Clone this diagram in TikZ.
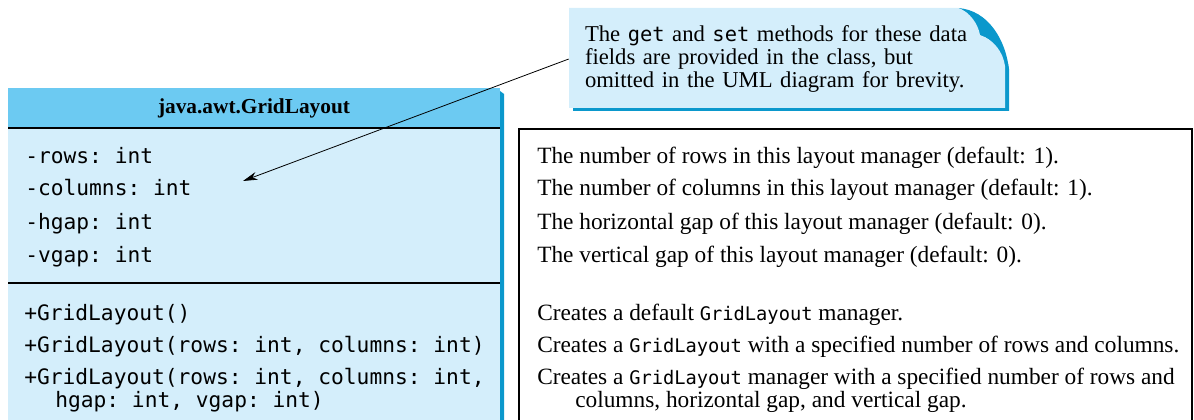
\documentclass[tikz,border=0pt]{standalone}
\usepackage{fontspec}
\setmainfont{Liberation Serif}
\setmonofont[Scale=0.9]{DejaVu Sans Mono}
\usepackage{xcolor}
\definecolor{umlhead}{HTML}{6CCAF2}
\definecolor{umlbody}{HTML}{D4EEFB}
\definecolor{umlshade}{HTML}{0B98CC}
\usetikzlibrary{arrows.meta, positioning}
\newcommand{\javaid}[1]{{\fontsize{15.6}{20}\ttfamily #1}}

\begin{document}
\begin{tikzpicture}[
	x=0.75pt, y=-0.75pt,
	head/.style={font=\fontsize{16}{18}\selectfont\bfseries, inner sep=0pt, fill=umlhead, minimum width=369pt, minimum height=30pt},
	field/.style={anchor=base west, inner sep=0pt, font=\fontsize{17.7}{20}\ttfamily},
	desc/.style={anchor=base west, inner sep=0pt, font=\fontsize{17.5}{20}\selectfont},
	notebox/.style={minimum width=327pt, minimum height=75pt, text width=303pt, inner xsep=12pt, inner ysep=0pt, align=left, font=\fontsize{17}{17.25}\selectfont},
	arr/.style={-{Stealth[length=11pt, width=6pt]}, draw=black, line width=0.6pt},
	sep/.style={draw=black, line width=0.9pt}
	]
	\useasboundingbox (0,0) rectangle (1194,420);

	% note with folded corner
	\fill[umlshade, shift={(4,3)}] (569,8) -- (958,8) .. controls (970,12) and (978,24) .. (980,35) .. controls (994,40) and (1003,52) .. (1005,66) -- (1005,108) -- (569,108) -- cycle;
	\fill[umlshade] (958,8) .. controls (988,10) and (1006,40) .. (1009,70) -- (1005,66) .. controls (1003,52) and (994,40) .. (980,35) .. controls (978,24) and (970,12) .. (958,8) -- cycle;
	\fill[umlbody] (569,8) -- (958,8) .. controls (970,12) and (978,24) .. (980,35) .. controls (994,40) and (1003,52) .. (1005,66) -- (1005,108) -- (569,108) -- cycle;
	\node[notebox] (note) at (787,59) {The {\ttfamily get} and {\ttfamily set} methods for these data\\fields are provided in the class, but\\omitted in the UML diagram for brevity.};

	% class box
	\fill[umlbody] (8,128) rectangle (500,425);
	\fill[umlshade] (500,91) -- (504,94) -- (504,425) -- (500,425) -- cycle;
	\node[head] (cls) at (254,108) {java.awt.GridLayout};
	\draw[sep] (8,128) -- (500,128);
	\draw[sep] (8,283) -- (500,283);

	\node[field] (rows) at (25,164) {-rows: int};
	\node[field] (columns) at (25,196) {-columns: int};
	\node[field] (hgap) at (25,229) {-hgap: int};
	\node[field] (vgap) at (25,262) {-vgap: int};

	\node[field] (ctor1) at (24,320) {+GridLayout()};
	\node[field] (ctor2) at (24,352) {+GridLayout(rows: int, columns: int)};
	\node[field] (ctor3) at (24,384) {+GridLayout(rows: int, columns: int,};
	\node[field] (ctor3b) at (55,407) {hgap: int, vgap: int)};

	% descriptions
	\draw[line width=0.8pt] (519,425) |- (1192,129) -- (1192,425);
	\node[desc] (rowsd) at (537,164) {The number of rows in this layout manager (default: 1).};
	\node[desc] (columnsd) at (537,196) {The number of columns in this layout manager (default: 1).};
	\node[desc] (hgapd) at (537,229) {The horizontal gap of this layout manager (default: 0).};
	\node[desc] (vgapd) at (537,262) {The vertical gap of this layout manager (default: 0).};
	\node[desc] (ctor1d) at (537,320) {Creates a default \javaid{GridLayout} manager.};
	\node[desc] (ctor2d) at (537,352) {Creates a \javaid{GridLayout} with a specified number of rows and columns.};
	\node[desc] (ctor3d) at (537,384) {Creates a \javaid{GridLayout} manager with a specified number of rows and};
	\node[desc] (ctor3bd) at (575,407) {columns, horizontal gap, and vertical gap.};

	\coordinate (tip) at (243,181);
	\draw[arr] (note.west) -- (tip);
\end{tikzpicture}
\end{document}
